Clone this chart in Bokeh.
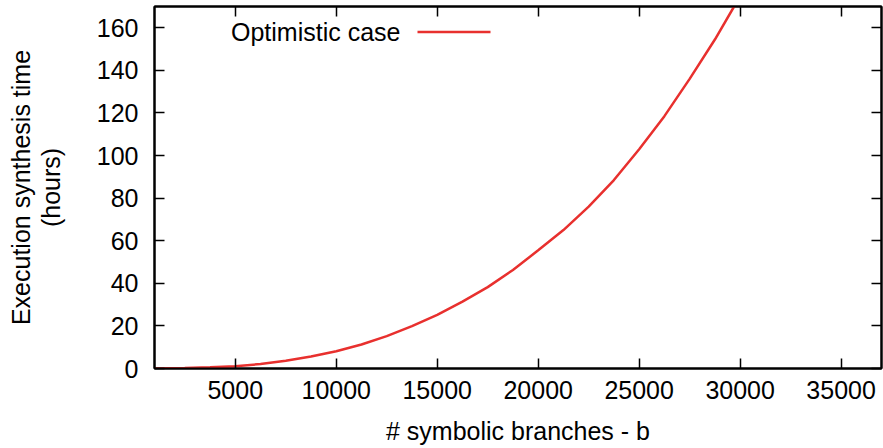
from bokeh.plotting import figure
from bokeh.models import LinearAxis, FixedTicker, Range1d, Label, BoxAnnotation, CustomLabelingPolicy
from bokeh.embed import file_html
from bokeh.resources import INLINE

# data
branches = [1000, 2500, 3750, 5000, 6250, 7500, 8750, 10000, 11250, 12500, 13750, 15000,
            16250, 17500, 18750, 20000, 21250, 22500, 23750, 25000, 26250, 27500, 28750, 29700]
hours = [0.05, 0.2, 0.6, 1.1, 2.1, 3.6, 5.6, 8.1, 11.3, 15.2, 19.9, 25.2,
         31.4, 38.2, 46.3, 55.5, 65.0, 76.0, 88.5, 103.0, 118.5, 136.0, 154.5, 170.0]
x_ticks = [5000, 10000, 15000, 20000, 25000, 30000, 35000]
y_ticks = [0, 20, 40, 60, 80, 100, 120, 140, 160]
series_name = "Optimistic case"

FONT = "Liberation Sans"
FS = "25px"
RED = "#e8302e"

p = figure(width=883, height=448, x_range=Range1d(1000, 37000), y_range=Range1d(0, 170),
           output_backend="svg", toolbar_location=None,
           min_border_left=154, min_border_right=2, min_border_top=6, min_border_bottom=80)
p.xgrid.visible = False
p.ygrid.visible = False
p.outline_line_color = "black"
p.outline_line_width = 2
p.background_fill_color = "white"
p.border_fill_color = "white"

hide_all = CustomLabelingPolicy(code="""
    const a = Array.from(indices)
    for (const i of a) indices.unset(i)
    return indices
""")

def style_axis(ax, ticks, labels=True):
    ax.ticker = FixedTicker(ticks=ticks)
    ax.major_tick_in = 10
    ax.major_tick_out = 0
    ax.minor_tick_in = 0
    ax.minor_tick_out = 0
    ax.major_tick_line_color = "black"
    ax.major_tick_line_width = 1.5
    ax.axis_line_color = "black"
    ax.axis_line_width = 2
    ax.major_label_text_font = FONT
    ax.major_label_text_font_size = FS if labels else "0px"
    ax.major_label_text_color = "black"
    ax.axis_label_text_font = FONT
    ax.axis_label_text_font_size = FS
    ax.axis_label_text_font_style = "normal"
    ax.axis_label_text_color = "black"
    if not labels:
        ax.major_label_standoff = 0
        ax.major_label_policy = hide_all

style_axis(p.xaxis[0], x_ticks)
style_axis(p.yaxis[0], y_ticks)
p.xaxis[0].axis_label = "# symbolic branches - b"
p.xaxis[0].major_label_standoff = 12
p.xaxis[0].axis_label_standoff = 15
p.yaxis[0].axis_label = "Execution synthesis time\n(hours)"
p.yaxis[0].axis_label_text_line_height = 1.05
p.yaxis[0].major_label_standoff = 16
p.yaxis[0].axis_label_standoff = 29

top_ax = LinearAxis()
style_axis(top_ax, x_ticks, labels=False)
p.add_layout(top_ax, "above")
right_ax = LinearAxis()
style_axis(right_ax, y_ticks, labels=False)
p.add_layout(right_ax, "right")

p.line(branches, hours, line_color=RED, line_width=2.5)

# legend (gnuplot style: text then sample line)
p.add_layout(Label(x=246, y=336.5, x_units="screen", y_units="screen", text=series_name,
                   text_align="right", text_baseline="middle", text_font=FONT,
                   text_font_size=FS, text_color="black"))
p.add_layout(BoxAnnotation(left=263, right=336, bottom=335.3, top=337.7,
                           left_units="screen", right_units="screen",
                           top_units="screen", bottom_units="screen",
                           fill_color=RED, fill_alpha=1, line_color=None))

open("out.html", "w").write(file_html(p, INLINE))
